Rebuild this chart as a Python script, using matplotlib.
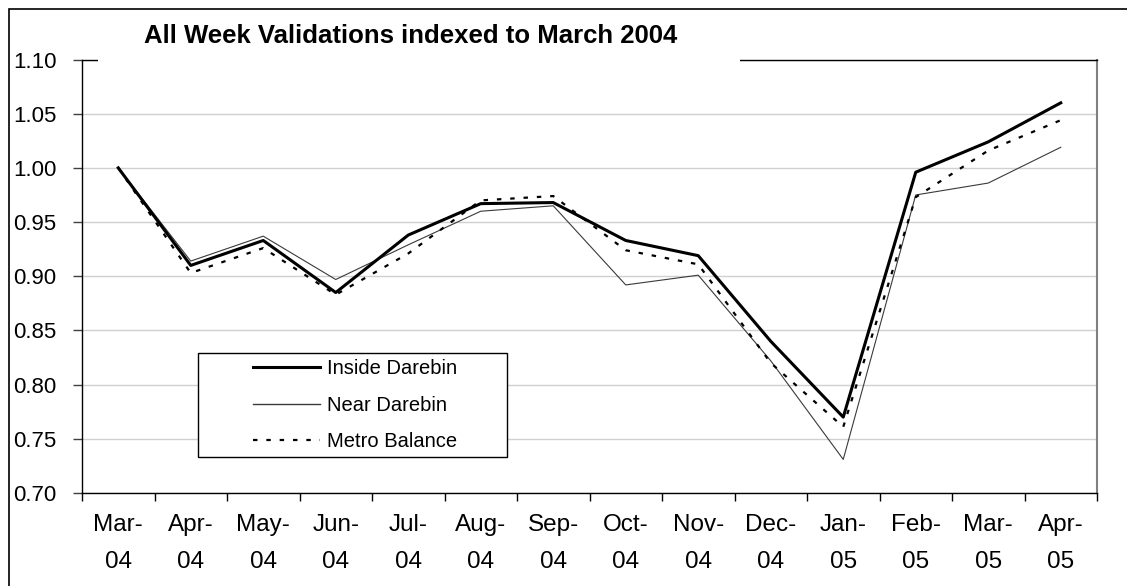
import matplotlib
matplotlib.use("Agg")
import matplotlib.pyplot as plt
from matplotlib.patches import Rectangle
from matplotlib.lines import Line2D

plt.rcParams['font.family'] = ['Liberation Sans', 'DejaVu Sans']

# Monthly all-week validations, indexed to March 2004
months = ["Mar-\n04", "Apr-\n04", "May-\n04", "Jun-\n04", "Jul-\n04", "Aug-\n04",
          "Sep-\n04", "Oct-\n04", "Nov-\n04", "Dec-\n04", "Jan-\n05", "Feb-\n05",
          "Mar-\n05", "Apr-\n05"]
inside_darebin = [1.000, 0.910, 0.933, 0.885, 0.938, 0.967, 0.968, 0.933, 0.919,
                  0.840, 0.770, 0.996, 1.024, 1.060]
near_darebin = [1.000, 0.914, 0.937, 0.897, 0.929, 0.960, 0.965, 0.892, 0.901,
                0.822, 0.731, 0.975, 0.986, 1.019]
metro_balance = [1.000, 0.903, 0.926, 0.883, 0.921, 0.970, 0.974, 0.924, 0.911,
                 0.820, 0.761, 0.973, 1.016, 1.044]
y_ticks = [0.70, 0.75, 0.80, 0.85, 0.90, 0.95, 1.00, 1.05, 1.10]

W, H = 1127, 586
fig = plt.figure(figsize=(W / 100, H / 100), dpi=100)
fig.patch.set_facecolor("white")


def fx(px):
    return px / W


def fy(py):
    return 1 - py / H


# chart border
fig.patches.append(Rectangle((fx(9), fy(600)), fx(1130) - fx(9), fy(9) - fy(600),
                             transform=fig.transFigure, fill=False,
                             edgecolor="black", linewidth=1.2, zorder=1))

left, right, top, bottom = 82, 1097, 59.5, 493
ax = fig.add_axes([fx(left), fy(bottom), fx(right) - fx(left), fy(top) - fy(bottom)])

x = list(range(len(months)))
dash = (0, (2, 4))
ax.plot(x, near_darebin, color="#3a3a3a", linewidth=0.8, label="Near Darebin", zorder=3)
ax.plot(x, metro_balance, color="black", linewidth=1.6, linestyle=dash,
        label="Metro Balance", zorder=4)
ax.plot(x, inside_darebin, color="black", linewidth=2.2, label="Inside Darebin", zorder=5)

ax.set_xlim(-0.5, len(months) - 0.5)
ax.set_ylim(0.70, 1.10)
ax.set_yticks(y_ticks)
ax.set_yticklabels([f"{v:.2f}" for v in y_ticks])
ax.yaxis.grid(True, color="#d0d0d0", linewidth=1.0)
ax.set_axisbelow(True)

ax.set_xticks([i - 0.5 for i in range(len(months) + 1)])
ax.set_xticklabels([])
ax.set_xticks(x, minor=True)
ax.set_xticklabels(months, minor=True, fontsize=17.5, linespacing=1.88)
ax.tick_params(axis="x", which="major", direction="out", length=6, width=1, color="black")
ax.tick_params(axis="x", which="minor", length=0, pad=15)
ax.tick_params(axis="y", direction="out", length=6.5, width=1, color="#404040",
               labelsize=16, pad=12)

for side in ("left", "bottom", "top"):
    ax.spines[side].set_color("black")
    ax.spines[side].set_linewidth(1.0)
ax.spines["right"].set_color("#808080")
ax.spines["right"].set_linewidth(1.5)

# title panel sits over the top edge of the plot area
fig.patches.append(Rectangle((fx(98), fy(64)), fx(740) - fx(98), fy(14) - fy(64),
                             transform=fig.transFigure, facecolor="white",
                             edgecolor="none", zorder=5))
fig.text(fx(144), fy(43), "All Week Validations indexed to March 2004",
         fontsize=18.5, fontweight="bold", ha="left", va="baseline", zorder=6)

# legend
fig.patches.append(Rectangle((fx(198), fy(457)), fx(507) - fx(198), fy(353) - fy(457),
                             transform=fig.transFigure, facecolor="white",
                             edgecolor="black", linewidth=1.0, zorder=6))
handles = [Line2D([], [], color="black", linewidth=2.2),
           Line2D([], [], color="#3a3a3a", linewidth=1.0),
           Line2D([], [], color="black", linewidth=1.6, linestyle=dash)]
leg = fig.legend(handles, ["Inside Darebin", "Near Darebin", "Metro Balance"],
                 loc="upper left", bbox_to_anchor=(fx(246), fy(352)),
                 frameon=False, fontsize=14.5, handlelength=3.3, handletextpad=0.35,
                 labelspacing=0.88, borderpad=0.35, borderaxespad=0)
leg.set_zorder(7)

fig.savefig("out.png", dpi=100, facecolor="white")
